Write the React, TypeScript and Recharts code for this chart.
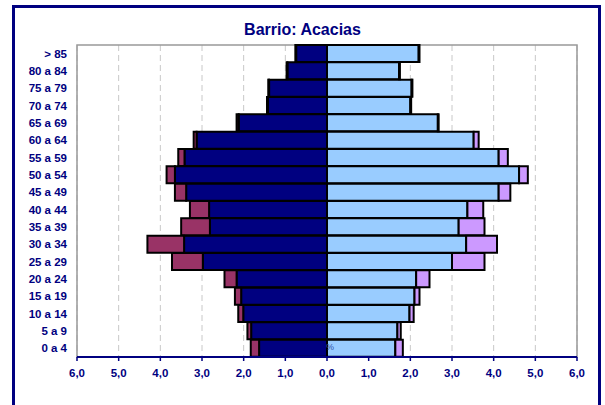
import { BarChart, Bar, XAxis, YAxis, CartesianGrid, ReferenceArea } from 'recharts'

const categories = ['> 85', '80 a 84', '75 a 79', '70 a 74', '65 a 69', '60 a 64', '55 a 59', '50 a 54', '45 a 49', '40 a 44', '35 a 39', '30 a 34', '25 a 29', '20 a 24', '15 a 19', '10 a 14', '5 a 9', '0 a 4']
const menNative = [0.74, 0.95, 1.39, 1.42, 2.12, 3.13, 3.42, 3.65, 3.38, 2.83, 2.81, 3.43, 2.98, 2.17, 2.06, 2.01, 1.82, 1.63]
const menForeign = [0.02, 0.02, 0.02, 0.02, 0.05, 0.07, 0.15, 0.2, 0.27, 0.46, 0.69, 0.88, 0.74, 0.29, 0.15, 0.12, 0.09, 0.2]
const womenNative = [2.2, 1.73, 2.03, 2.0, 2.66, 3.52, 4.12, 4.61, 4.12, 3.37, 3.16, 3.34, 3.0, 2.14, 2.1, 1.98, 1.69, 1.64]
const womenForeign = [0.02, 0.02, 0.02, 0.02, 0.02, 0.12, 0.22, 0.21, 0.28, 0.38, 0.62, 0.74, 0.78, 0.32, 0.12, 0.1, 0.08, 0.18]
const xTicks = [-6, -5, -4, -3, -2, -1, 0, 1, 2, 3, 4, 5, 6]

const data = categories.map((name, i) => ({
  name,
  menNative: -menNative[i],
  menForeign: -menForeign[i],
  womenNative: womenNative[i],
  womenForeign: womenForeign[i],
}))

const NAVY = '#000080'
const FONT = '"Liberation Sans", Arial, sans-serif'

const fmt = (v: number) => Math.abs(v).toFixed(1).replace('.', ',')

export default function App() {
  return (
    <div style={{ position: 'absolute', left: 0, top: 0, width: 605, height: 405, overflow: 'hidden', background: '#fff', fontFamily: FONT }}>
      <div
        style={{
          position: 'absolute',
          left: 12,
          top: 5,
          width: 583,
          height: 420,
          border: `3px solid ${NAVY}`,
        }}
      />
      <div
        style={{
          position: 'absolute',
          left: 8,
          width: 589,
          top: 21,
          textAlign: 'center',
          fontSize: 16,
          fontWeight: 'bold',
          color: NAVY,
        }}
      >
        Barrio: Acacias
      </div>
      <div style={{ position: 'absolute', left: 0, top: 0 }}>
        <BarChart
          width={605}
          height={405}
          data={data}
          layout="vertical"
          stackOffset="sign"
          barCategoryGap={0}
          margin={{ top: 45, right: 28, bottom: 18, left: 0 }}
        >
          <CartesianGrid vertical horizontal={false} stroke="#c8c8c8" strokeDasharray="6 4" />
          <XAxis
            type="number"
            domain={[-6, 6]}
            ticks={xTicks}
            tickFormatter={fmt}
            height={30}
            axisLine={{ stroke: NAVY, strokeWidth: 2 }}
            tickLine={{ stroke: NAVY, strokeWidth: 1.5 }}
            tickSize={4}
            tickMargin={8}
            tick={{ fontSize: 11.5, fontWeight: 'bold', fill: NAVY, fontFamily: FONT }}
          />
          <YAxis
            type="category"
            dataKey="name"
            width={77}
            axisLine={false}
            tickLine={false}
            tickSize={0}
            tickMargin={10}
            interval={0}
            tick={{ fontSize: 11.5, fontWeight: 'bold', fill: NAVY, fontFamily: FONT }}
          />
          <ReferenceArea x1={-6} x2={6} fill="none" stroke="#999999" strokeWidth={1.5} />
          <Bar dataKey="menNative" stackId="p" fill={NAVY} stroke="#000" strokeWidth={2} isAnimationActive={false} />
          <Bar dataKey="menForeign" stackId="p" fill="#993366" stroke="#000" strokeWidth={2} isAnimationActive={false} />
          <Bar dataKey="womenNative" stackId="p" fill="#99ccff" stroke="#000" strokeWidth={2} isAnimationActive={false} />
          <Bar dataKey="womenForeign" stackId="p" fill="#cc99ff" stroke="#000" strokeWidth={2} isAnimationActive={false} />
        </BarChart>
      </div>
      <div style={{ position: 'absolute', left: 326, top: 342, fontSize: 9, color: '#3355aa' }}>%</div>
    </div>
  )
}
